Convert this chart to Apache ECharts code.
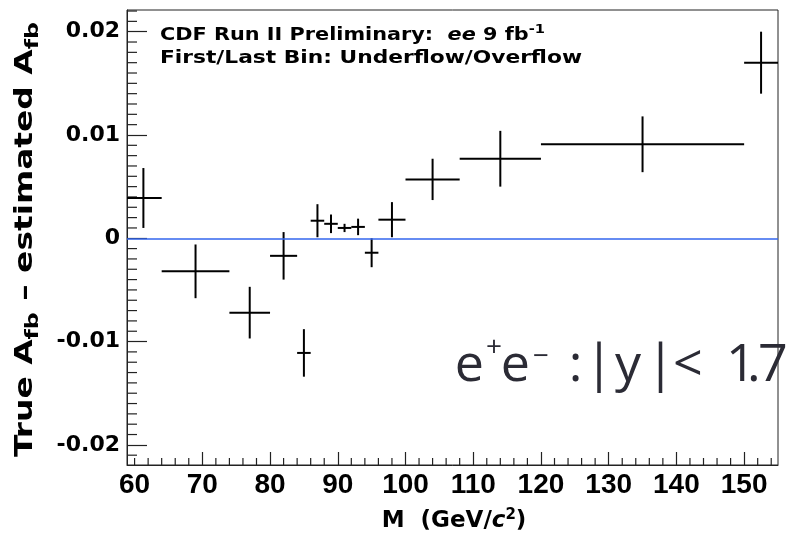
<!DOCTYPE html>
<html><head><meta charset="utf-8">
<script src="https://cdn.jsdelivr.net/npm/echarts@6/dist/echarts.min.js"></script>
<style>html,body{margin:0;padding:0;background:#fff}#c{width:794px;height:538px}</style>
</head><body><div id="c"></div>
<script>
// ---- data ----
const massCenter = [61.3, 69, 77, 82, 85, 87, 89, 91, 93, 95, 98, 104, 114, 135, 152.5];
const binLow     = [58.6, 64, 74, 80, 84, 86, 88, 90, 92, 94, 96, 100, 108, 120, 150];
const binHigh    = [64, 74, 80, 84, 86, 88, 90, 92, 94, 96, 100, 108, 120, 150, 155];
const afbDiff    = [0.0039, -0.0032, -0.0072, -0.0017, -0.0111, 0.0017, 0.0014, 0.0010, 0.0011, -0.0014, 0.0018, 0.0057, 0.0077, 0.0091, 0.0170];
const afbErr     = [0.0029, 0.0026, 0.0025, 0.0023, 0.0023, 0.0016, 0.0009, 0.0004, 0.0008, 0.0014, 0.0017, 0.0020, 0.0027, 0.0027, 0.0030];
const xTickLabels = [60, 70, 80, 90, 100, 110, 120, 130, 140, 150];
const yTickLabels = [-0.02, -0.01, 0, 0.01, 0.02];

const X_MIN = 58.88, X_MAX = 155.0, Y_MIN = -0.02195, Y_MAX = 0.0221;

const xMajor = xTickLabels.filter(v => v !== 60);
const xMinor = [];
for (let v = 60; v < X_MAX; v += 2) if (v % 10 !== 0 || v === 60) xMinor.push(v);
const yMinor = [];
for (let k = -21; k <= 22; k++) if (k % 10 !== 0) yMinor.push(k / 1000);

// ---- text helpers ----
const mc = document.createElement('canvas').getContext('2d');
function fontStr(size, fam, weight, italic) {
  return (italic ? 'italic ' : '') + (weight || 'normal') + ' ' + size + 'px ' + fam;
}
function run(parts, o) {
  let x = 0; const ch = [];
  parts.forEach(p => {
    const size = p.size || o.size;
    mc.font = fontStr(size, o.fam, o.weight, p.italic);
    const m = mc.measureText(p.t);
    let dx = 0;
    if (p.at !== undefined) { x = p.at; if (o.ink) dx = m.actualBoundingBoxLeft; }
    ch.push({type: 'text', x: x + dx, y: (p.dy || 0) - 0.3 * size,
      style: {text: p.t, fontSize: size, fontFamily: o.fam, fontWeight: o.weight || 'normal',
        fontStyle: p.italic ? 'italic' : 'normal', fill: o.fill || '#000', align: 'left', verticalAlign: 'middle'}});
    x += m.width + (p.gap || 0);
  });
  const sx = o.width ? o.width / x : 1;
  return {type: 'group', x: o.x, y: o.y, rotation: o.rot || 0, scaleX: sx, children: ch};
}
const DJ = '"DejaVu Sans"';

const graphics = [
  run([{t: 'CDF Run II Preliminary:  '}, {t: 'ee', italic: true}, {t: ' 9 fb'}, {t: '-1', size: 12, dy: -8}],
      {x: 160, y: 41, size: 17, fam: DJ, weight: 'bold', width: 385}),
  run([{t: 'First/Last Bin: Underflow/Overflow'}],
      {x: 160, y: 64, size: 17, fam: DJ, weight: 'bold', width: 422}),
  run([{t: 'M  (GeV/'}, {t: 'c', italic: true}, {t: '2', size: 15, dy: -9}, {t: ')'}],
      {x: 381.7, y: 528.3, size: 23, fam: DJ, weight: 'bold'}),
  run([{t: 'True '}, {t: 'A'}, {t: 'fb', size: 18, dy: 6}, {t: ' \u2013 '},
       {t: 'estimated '}, {t: 'A'}, {t: 'fb', size: 18, dy: 6}],
      {x: 33, y: 457, rot: Math.PI / 2, size: 25, fam: DJ, weight: 'bold', width: 435}),
  run([{t: 'e', at: 456.7}, {t: '+', at: 487, size: 28, dy: -25}, {t: 'e', at: 502.7}, {t: '\u2212', at: 534, size: 28, dy: -16},
       {t: ':', at: 571.7}, {t: '|', at: 596.7}, {t: 'y', at: 615}, {t: '|', at: 658.3}, {t: '<', at: 675},
       {t: '1', at: 730}, {t: '.', at: 750}, {t: '7', at: 760}],
      {x: 0, y: 381.7, size: 52, fam: '"Open Sans", Lato, sans-serif', weight: 'normal', fill: '#2b2b35', ink: true})
];

const chart = echarts.init(document.getElementById('c'), null, {renderer: 'canvas'});
const axisCol = '#222';
chart.setOption({
  animation: false,
  backgroundColor: '#fff',
  grid: {left: 127, right: 16, top: 10, bottom: 73, show: true, borderColor: axisCol, borderWidth: 1},
  xAxis: {type: 'value', min: X_MIN, max: X_MAX, position: 'bottom',
     axisLine: {show: true, onZero: false, lineStyle: {color: axisCol, width: 1}},
     axisTick: {show: true, inside: true, length: 13, customValues: xMajor, lineStyle: {color: axisCol, width: 1.2}},
     axisLabel: {show: true, customValues: xTickLabels, margin: 6, fontSize: 28, fontWeight: 'bold',
       fontFamily: '"Liberation Sans", Arial, sans-serif', color: '#000'},
     splitLine: {show: false}},
  yAxis: {type: 'value', min: Y_MIN, max: Y_MAX, position: 'left',
     axisLine: {show: true, onZero: false, lineStyle: {color: axisCol, width: 1}},
     axisTick: {show: true, inside: true, length: 20, customValues: yTickLabels, lineStyle: {color: axisCol, width: 1.2}},
     axisLabel: {show: true, customValues: yTickLabels, margin: 7, fontSize: 22, fontWeight: 'bold',
       fontFamily: DJ, color: '#000', formatter: v => (Math.abs(v) < 1e-9 ? '0' : v.toFixed(2))},
     splitLine: {show: false}},
  series: [
    {type: 'line', data: [], silent: true,
     markLine: {silent: true, symbol: 'none', label: {show: false},
       lineStyle: {color: '#3366ee', width: 1.5, type: 'solid'}, data: [{yAxis: 0}]}},
    {type: 'custom', clip: true, silent: true, z: 4,
     data: massCenter.map((c, i) => [c, binLow[i], binHigh[i], afbDiff[i], afbErr[i]]),
     encode: {x: [0, 1, 2], y: 3},
     renderItem: function (params, api) {
       const xc = api.value(0), lo = api.value(1), hi = api.value(2), y = api.value(3), e = api.value(4);
       const pl = api.coord([lo, y]), pr = api.coord([hi, y]);
       const pt = api.coord([xc, y + e]), pb = api.coord([xc, y - e]);
       const st = {stroke: '#000', lineWidth: 2};
       return {type: 'group', children: [
         {type: 'line', shape: {x1: pl[0], y1: pl[1], x2: pr[0], y2: pr[1]}, style: st},
         {type: 'line', shape: {x1: pt[0], y1: pt[1], x2: pb[0], y2: pb[1]}, style: st}
       ]};
     }}
  ]
});

// minor ticks, placed through the chart's own axis scales
const tickEls = [];
xMinor.forEach(v => {
  const p = chart.convertToPixel({gridIndex: 0}, [v, Y_MIN]);
  tickEls.push({type: 'line', shape: {x1: p[0], y1: p[1], x2: p[0], y2: p[1] - 7},
    style: {stroke: axisCol, lineWidth: 1.2}});
});
yMinor.forEach(v => {
  const p = chart.convertToPixel({gridIndex: 0}, [X_MIN, v]);
  tickEls.push({type: 'line', shape: {x1: p[0], y1: p[1], x2: p[0] + 10, y2: p[1]},
    style: {stroke: axisCol, lineWidth: 1.2}});
});
chart.setOption({graphic: tickEls.concat(graphics)});
</script></body></html>
